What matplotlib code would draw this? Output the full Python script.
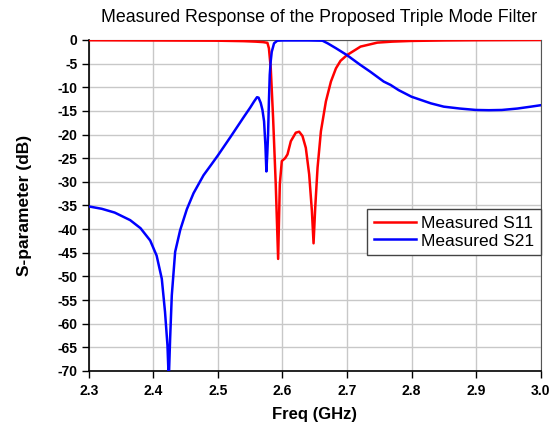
import numpy as np
import matplotlib
matplotlib.use("Agg")
import matplotlib.pyplot as plt

# measured S21 (GHz, dB)
s21_freq = [2.300, 2.320, 2.340, 2.364, 2.380, 2.395, 2.405, 2.413, 2.418, 2.4218,
            2.4238, 2.4259, 2.4285, 2.4337, 2.4415, 2.4518, 2.4622, 2.4777, 2.490,
            2.500, 2.520, 2.540, 2.550, 2.556, 2.5606, 2.5630, 2.5663, 2.5690,
            2.5715, 2.5736, 2.5751, 2.5765, 2.5777, 2.5790, 2.5803, 2.5818, 2.5834,
            2.587, 2.592, 2.600, 2.640, 2.662, 2.670, 2.683, 2.700, 2.720, 2.736,
            2.757, 2.7675, 2.780, 2.800, 2.830, 2.850, 2.875, 2.900, 2.920, 2.940,
            2.964, 2.985, 3.000]
s21_db = [-35.2, -35.7, -36.5, -38.1, -39.8, -42.4, -45.6, -50.5, -57.5, -64.6,
          -72.0, -63.2, -54.0, -44.8, -40.2, -35.8, -32.4, -28.6, -26.3,
          -24.4, -20.4, -16.3, -14.3, -13.0, -12.1, -12.2, -13.3, -14.8,
          -17.2, -22.3, -27.8, -24.0, -20.0, -13.0, -7.4, -4.5, -2.5,
          -0.7, -0.15, -0.1, -0.1, -0.15, -0.7, -1.75, -3.2, -5.2, -6.7,
          -8.8, -9.5, -10.6, -12.0, -13.4, -14.1, -14.5, -14.8, -14.85, -14.8,
          -14.5, -14.1, -13.8]

# measured S11 (GHz, dB)
s11_freq = [2.300, 2.400, 2.500, 2.540, 2.5586, 2.5700, 2.5767, 2.579, 2.5819,
            2.5855, 2.5896, 2.5933, 2.5959, 2.5990, 2.6041, 2.6078, 2.6130,
            2.6207, 2.6259, 2.6310, 2.6362, 2.6414, 2.6456, 2.6482, 2.6508,
            2.6544, 2.6596, 2.6673, 2.6751, 2.6829, 2.6900, 2.700, 2.721, 2.747,
            2.770, 2.800, 2.850, 2.900, 3.000]
s11_db = [-0.05, -0.1, -0.15, -0.25, -0.35, -0.45, -0.6, -1.75, -6.0,
          -16.5, -30.5, -46.3, -30.5, -25.6, -25.0, -24.2, -21.4,
          -19.6, -19.4, -20.3, -22.8, -28.4, -36.1, -43.0, -35.4,
          -27.0, -19.3, -13.0, -8.8, -6.0, -4.4, -3.2, -1.4, -0.56,
          -0.35, -0.2, -0.1, -0.05, 0.0]

xticks = [2.3, 2.4, 2.5, 2.6, 2.7, 2.8, 2.9, 3.0]
yticks = list(range(-70, 1, 5))

plt.rcParams["font.family"] = ["Liberation Sans", "DejaVu Sans"]

fig = plt.figure(figsize=(5.59, 4.29), dpi=100)
ax = fig.add_axes([0.159, 0.1352, 0.808, 0.7716])

ax.plot(s11_freq, s11_db, color="#ff0000", lw=1.8, label="Measured S11", zorder=3)
ax.plot(s21_freq, s21_db, color="#0000ff", lw=1.8, label="Measured S21", zorder=3)

ax.set_xlim(2.3, 3.0)
ax.set_ylim(-70, 0)
ax.set_xticks(xticks)
ax.set_yticks(yticks)
ax.set_xticklabels([f"{t:.1f}" for t in xticks], fontweight="bold", fontsize=10)
ax.set_yticklabels([str(t) for t in yticks], fontweight="bold", fontsize=10)
ax.tick_params(axis="x", direction="out", length=4.8, width=1, pad=4.5)
ax.tick_params(axis="y", direction="out", length=4.8, width=1, pad=3.5)
ax.grid(True, color="#c8c8c8", lw=1)
ax.set_axisbelow(True)

for s in ["top", "right"]:
    ax.spines[s].set_color("#555555")
for s in ["left", "bottom"]:
    ax.spines[s].set_color("black")
    ax.spines[s].set_linewidth(1.2)

ax.set_xlabel("Freq (GHz)", fontweight="bold", fontsize=12)
ax.xaxis.set_label_coords(0.5, -0.108)
ax.set_ylabel("S-parameter (dB)", fontweight="bold", fontsize=12.5)
ax.yaxis.set_label_coords(-0.125, 0.5)
ax.set_title("Measured Response of the Proposed Triple Mode Filter", fontsize=12.8,
             pad=13, x=0.51)

leg = ax.legend(loc="upper right", bbox_to_anchor=(1.0, 0.4894), borderaxespad=0,
                fancybox=False, edgecolor="#444444", fontsize=12.5, handlelength=2.4,
                handletextpad=0.3, borderpad=0.38, labelspacing=0.15, framealpha=1)
leg.get_frame().set_linewidth(1)

fig.savefig("out.png", dpi=100)
